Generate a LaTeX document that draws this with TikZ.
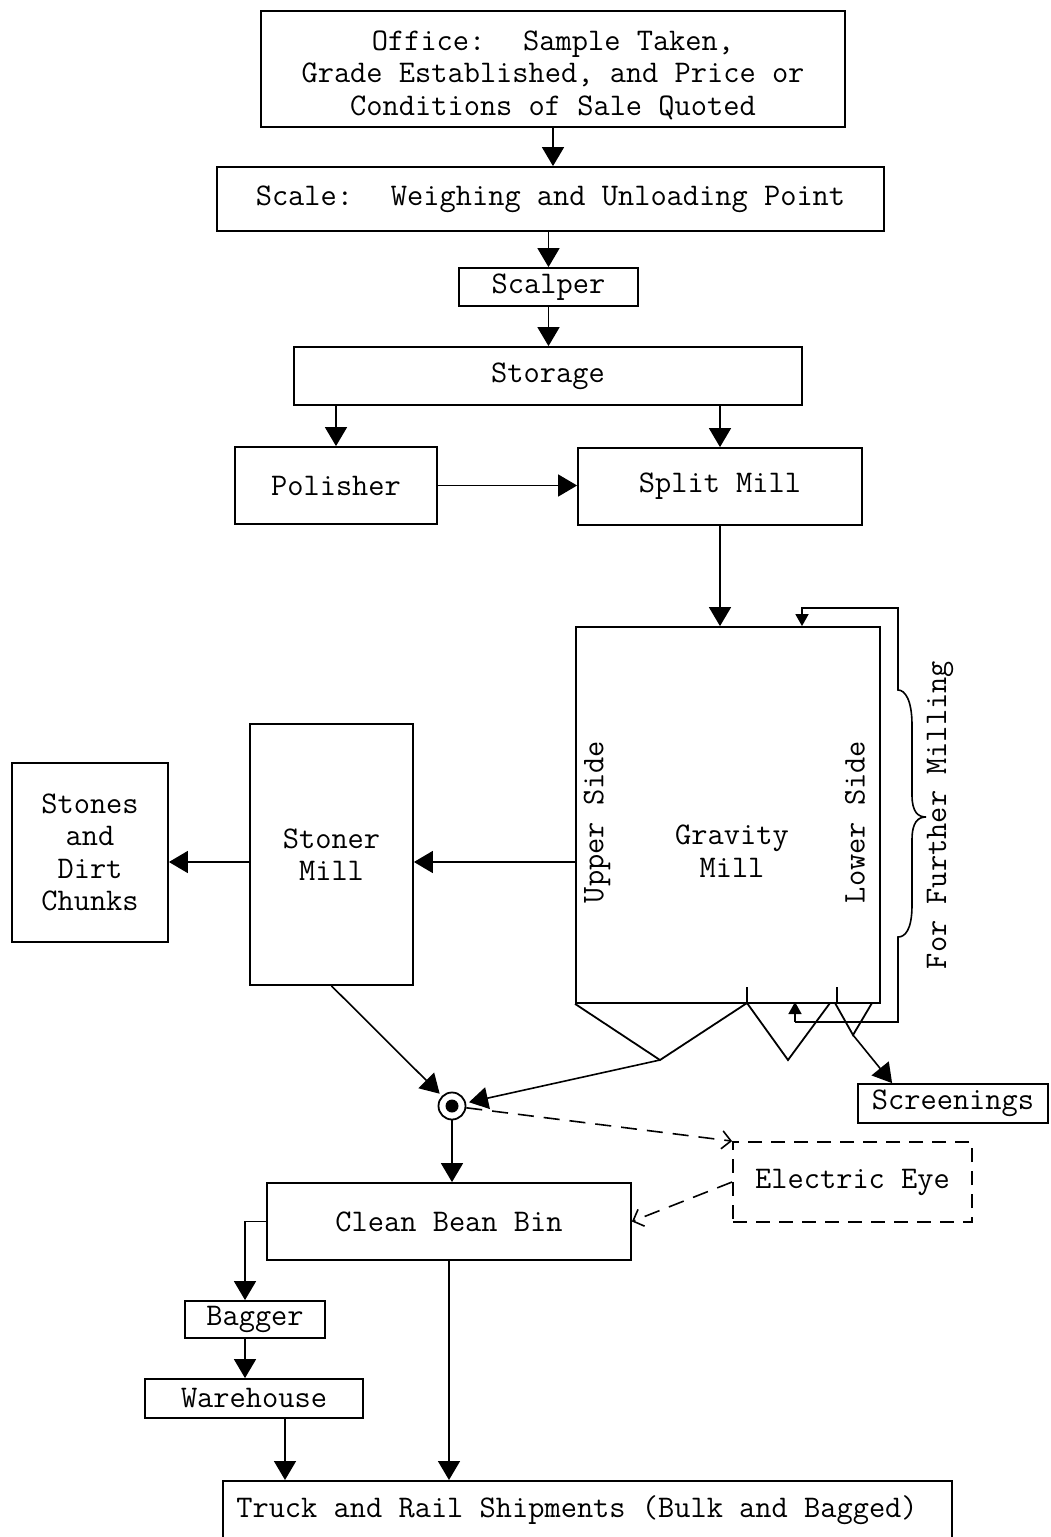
\documentclass[tikz,border=0pt]{standalone}
\usepackage{fontspec}
\usetikzlibrary{arrows.meta}
\begin{document}
\begin{tikzpicture}[x=1pt,y=-1pt,
 txt/.style={font=\ttfamily\fontsize{31.5}{32.5}\selectfont},
 box/.style={draw,line width=1.8pt,inner sep=0pt,align=center,txt},
 dbox/.style={box,dash pattern=on 14pt off 9pt},
 lbl/.style={inner sep=0pt,align=center,txt},
 arr/.style={line width=1.6pt,-{Triangle[length=19pt,width=22pt]}},
 sarr/.style={line width=1.6pt,-{Triangle[length=12pt,width=13pt]}},
 darr/.style={line width=1.6pt,dash pattern=on 16pt off 10pt,-{Straight Barb[length=9pt,width=18pt]}},
 ln/.style={line width=1.8pt,line join=miter}]
\useasboundingbox (0,0) rectangle (1051,1537);
\fill[white] (0,0) rectangle (1051,1537);

% boxes
\node[box,minimum width=584,minimum height=116] (office) at (553,69) {};
\node[lbl] (officetxt) at (553,75)
 {Office:~ Sample Taken,\\Grade Established, and Price or\\Conditions of Sale Quoted};
\node[box,minimum width=667,minimum height=64] (scale) at (550.5,199)
 {Scale:~ Weighing and Unloading Point};
\node[box,minimum width=179,minimum height=38] (scalper) at (548.5,287) {Scalper};
\node[box,minimum width=508,minimum height=58] (storage) at (548,376) {Storage};
\node[box,minimum width=202,minimum height=77] (polisher) at (336,485.5) {Polisher};
\node[box,minimum width=284,minimum height=77] (split) at (720,486.5) {Split Mill};
\node[box,minimum width=304,minimum height=376] (gravity) at (728,815) {};
\node[lbl] (gmill) at (732,851) {Gravity\\Mill};
\node[lbl,rotate=90] (upper) at (597,822) {Upper Side};
\node[lbl,rotate=90] (lower) at (855,822) {Lower Side};
\node[lbl,rotate=90] (further) at (940,815) {For Further Milling};
\node[box,minimum width=163,minimum height=261] (stoner) at (331.5,854.5) {Stoner\\Mill};
\node[box,minimum width=156,minimum height=179] (stones) at (90,852.5) {Stones\\and\\Dirt\\Chunks};
\node[box,minimum width=190,minimum height=39] (screen) at (953,1103.5) {Screenings};
\node[dbox,minimum width=239,minimum height=80] (eye) at (852.5,1182) {Electric Eye};
\node[box,minimum width=364,minimum height=77] (bin) at (449,1221.5) {Clean Bean Bin};
\node[box,minimum width=140,minimum height=37] (bagger) at (255,1319.5) {Bagger};
\node[box,minimum width=218,minimum height=39] (ware) at (254,1398.5) {Warehouse};
\node[box,minimum width=729,minimum height=72,anchor=north] (truck) at (587.5,1480) {};
\node[lbl] (trucktxt) at (577,1510) {Truck and Rail Shipments (Bulk and Bagged)};

% bullseye
\node[circle,draw,line width=1.8pt,minimum size=27,inner sep=0pt] (bull) at (452,1106) {};
\fill (bull.center) circle (6.5);

% helper coordinates
\coordinate (gy) at (0,862);
\coordinate (bx) at (245,0);
\coordinate (wx) at (285,0);
\coordinate (fx) at (802,0);
\coordinate (hop1) at (660,1060);
\coordinate (hop2) at (788,1060);
\coordinate (hop3) at (853,1035);
\coordinate (t1) at (747,1003);
\coordinate (t2) at (830,1003);
\coordinate (t3) at (835,1003);
\coordinate (t4) at (872,1003);
\coordinate (la) at (795,1022);
\coordinate (lb) at (898,1022);
\coordinate (lc) at (898,937);
\coordinate (ld) at (898,690);
\coordinate (le) at (898,608);
\coordinate (lf) at (802,608);

% main flow
\draw[arr] (office.south) -- (office.south |- scale.north);
\draw[arr] (scale.south -| scalper.north) -- (scalper.north);
\draw[arr] (scalper.south) -- (scalper.south |- storage.north);
\draw[arr] (storage.south -| polisher.north) -- (polisher.north);
\draw[arr] (storage.south -| split.north) -- (split.north);
\draw[arr] (polisher.east) -- (polisher.east -| split.west);
\draw[arr] (split.south) -- (split.south |- gravity.north);
\draw[arr] (gravity.west |- gy) -- (stoner.east |- gy);
\draw[arr] (stoner.west |- gy) -- (stones.east |- gy);

% hoppers
\draw[ln] (gravity.south west) -- (hop1) -- (t1) -- (hop2) -- (t2);
\draw[ln] (t3) -- (hop3) -- (t4);
\draw[ln] (747,987) -- (t1);
\draw[ln] (837,987) -- (837,1003);

% feedback loop
\draw[sarr] (la) -- (795,1002);
\draw[sarr] (la) -- (lb) -- (lc)
  .. controls (905,937) and (912,930) .. (912,905) -- (912,840)
  .. controls (912,822) and (918,817) .. (926,817)
  .. controls (918,817) and (912,812) .. (912,795) -- (912,725)
  .. controls (912,700) and (905,690) .. (ld)
  -- (le) -- (lf) -- (gravity.north -| fx);

% to screenings
\draw[arr] (hop3) -- ([xshift=35pt]screen.north west);

% to bullseye
\draw[arr,shorten >=3pt] (stoner.south) -- (bull);
\draw[arr,shorten >=3pt] (hop1) -- (bull);
\draw[arr] (bull) -- (bull |- bin.north);

% electric eye
\draw[darr] (bull) -- (eye.north west);
\draw[darr] (eye.west) -- (bin.east);

% bagging
\draw[arr] (bin.west) -| (bagger.north -| bx);
\draw[arr] (bagger.south -| bx) -- (ware.north -| bx);
\draw[arr] (ware.south -| wx) -- (truck.north -| wx);
\draw[arr] (bin.south) -- (bin.south |- truck.north);
\end{tikzpicture}
\end{document}
